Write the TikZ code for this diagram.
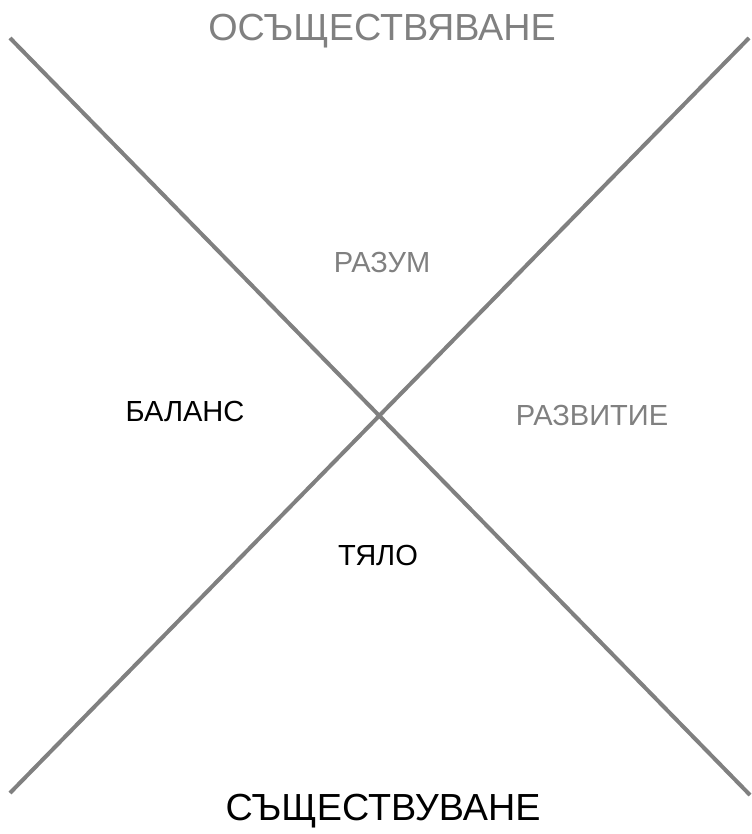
\documentclass[tikz,border=0pt]{standalone}
\usepackage{fontspec}
\setmainfont{Liberation Sans}
\definecolor{linegray}{HTML}{808080}
\definecolor{txtgray}{HTML}{808080}
\tikzset{
  bigtxt/.style={inner sep=0pt, anchor=base, font=\fontsize{28.3}{30}\selectfont},
  smalltxt/.style={inner sep=0pt, anchor=base, font=\fontsize{21.8}{24}\selectfont},
  xline/.style={draw=linegray, line width=3pt}
}
\begin{document}
\begin{tikzpicture}[x=0.75pt,y=-0.75pt]
\useasboundingbox (0,0) rectangle (752,834);
\coordinate (tl) at (10,38);
\coordinate (br) at (750,795);
\coordinate (tr) at (749,38);
\coordinate (bl) at (10,793);
\draw[xline] (tl) -- (br);
\draw[xline] (tr) -- (bl);
\node[bigtxt, text=txtgray] (top) at (382,41) {ОСЪЩЕСТВЯВАНЕ};
\node[bigtxt, text=black] (bottom) at (383,820) {СЪЩЕСТВУВАНЕ};
\node[smalltxt, text=txtgray] (razum) at (382,272) {РАЗУМ};
\node[smalltxt, text=black] (balans) at (185,421) {БАЛАНС};
\node[smalltxt, text=txtgray] (razvitie) at (592,425) {РАЗВИТИЕ};
\node[smalltxt, text=black] (tyalo) at (378,565) {ТЯЛО};
\end{tikzpicture}
\end{document}
